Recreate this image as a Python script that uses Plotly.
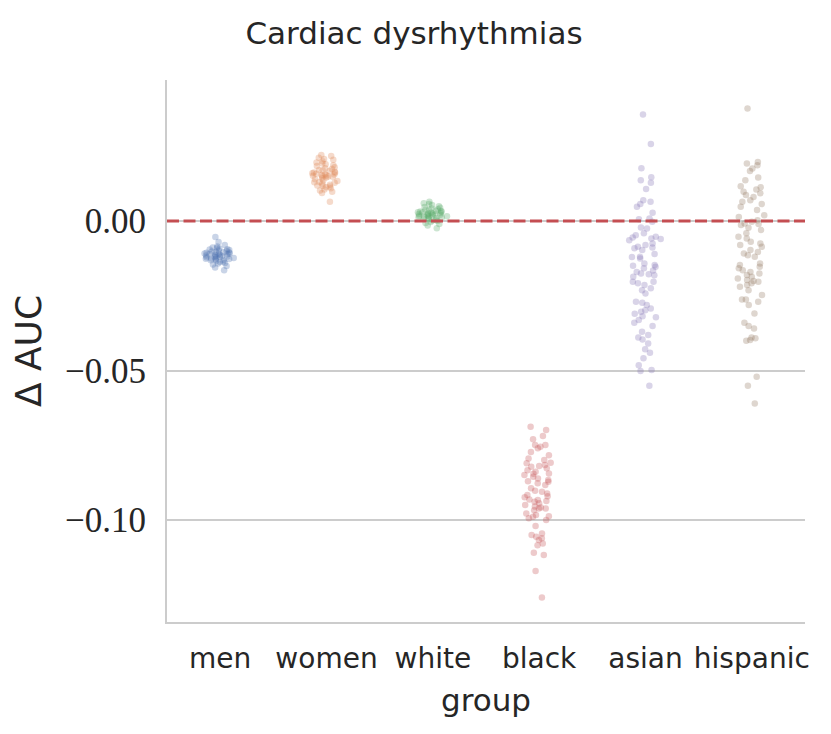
import plotly.graph_objects as go

groups = ["men", "women", "white", "black", "asian", "hispanic"]

men = [-0.0053, -0.0070, -0.0080, -0.0085, -0.0088, -0.0090, -0.0092, -0.0095, -0.0097,
       -0.0098, -0.0100, -0.0102, -0.0103, -0.0105, -0.0106, -0.0108, -0.0110, -0.0110,
       -0.0112, -0.0113, -0.0115, -0.0116, -0.0118, -0.0119, -0.0120, -0.0122, -0.0123,
       -0.0125, -0.0126, -0.0128, -0.0130, -0.0131, -0.0133, -0.0135, -0.0137, -0.0140,
       -0.0142, -0.0145, -0.0150, -0.0155, -0.0164, -0.0094, -0.0108, -0.0117, -0.0121,
       -0.0127, -0.0111, -0.0104]

women = [0.0221, 0.0218, 0.0212, 0.0208, 0.0205, 0.0200, 0.0196, 0.0193, 0.0190, 0.0187,
         0.0184, 0.0180, 0.0177, 0.0174, 0.0170, 0.0168, 0.0165, 0.0163, 0.0160, 0.0158,
         0.0156, 0.0154, 0.0152, 0.0150, 0.0148, 0.0146, 0.0143, 0.0140, 0.0137, 0.0134,
         0.0131, 0.0128, 0.0125, 0.0122, 0.0119, 0.0116, 0.0113, 0.0110, 0.0106, 0.0102,
         0.0098, 0.0094, 0.0065, 0.0157, 0.0153, 0.0149, 0.0162, 0.0130, 0.0118, 0.0171]

white = [0.0065, 0.0060, 0.0057, 0.0054, 0.0050, 0.0047, 0.0045, 0.0042, 0.0040, 0.0038,
         0.0036, 0.0034, 0.0032, 0.0030, 0.0029, 0.0027, 0.0025, 0.0024, 0.0022, 0.0021,
         0.0019, 0.0018, 0.0016, 0.0015, 0.0013, 0.0012, 0.0010, 0.0008, 0.0006, 0.0004,
         0.0002, 0.0000, -0.0003, -0.0006, -0.0010, -0.0015, -0.0024, 0.0028, 0.0023,
         0.0020, 0.0017, 0.0031, 0.0011, 0.0035, 0.0026]

black = [-0.0688, -0.0699, -0.0719, -0.0730, -0.0749, -0.0749, -0.0755, -0.0760, -0.0772,
         -0.0783, -0.0794, -0.0799, -0.0808, -0.0810, -0.0816, -0.0822, -0.0827, -0.0833,
         -0.0838, -0.0844, -0.0849, -0.0855, -0.0861, -0.0866, -0.0872, -0.0877, -0.0883,
         -0.0894, -0.0905, -0.0911, -0.0916, -0.0920, -0.0924, -0.0931, -0.0933, -0.0939,
         -0.0944, -0.0950, -0.0955, -0.0961, -0.0961, -0.0967, -0.0978, -0.0983, -0.0987,
         -0.0989, -0.0994, -0.1000, -0.1020, -0.1045, -0.1050, -0.1056, -0.1061, -0.1067,
         -0.1078, -0.1084, -0.1109, -0.1117, -0.1170, -0.1259, -0.0845, -0.0902, -0.0936,
         -0.0958, -0.0819, -0.0870]

asian = [0.0357, 0.0258, 0.0177, 0.0147, 0.0137, 0.0128, 0.0107, 0.0070, 0.0065, 0.0057,
         0.0048, 0.0028, 0.0009, 0.0006, -0.0002, -0.0021, -0.0025, -0.0041, -0.0047,
         -0.0052, -0.0058, -0.0064, -0.0075, -0.0080, -0.0086, -0.0091, -0.0097, -0.0110,
         -0.0119, -0.0125, -0.0142, -0.0147, -0.0149, -0.0153, -0.0158, -0.0170, -0.0175,
         -0.0181, -0.0186, -0.0203, -0.0203, -0.0208, -0.0214, -0.0225, -0.0231, -0.0242,
         -0.0270, -0.0273, -0.0281, -0.0292, -0.0298, -0.0303, -0.0318, -0.0322, -0.0331,
         -0.0340, -0.0351, -0.0370, -0.0381, -0.0389, -0.0396, -0.0409, -0.0429, -0.0440,
         -0.0459, -0.0482, -0.0498, -0.0501, -0.0551, -0.0060, -0.0088, -0.0165, -0.0178,
         -0.0310, -0.0055, -0.0120]

hispanic = [0.0377, 0.0198, 0.0193, 0.0187, 0.0176, 0.0168, 0.0146, 0.0137, 0.0117, 0.0113,
            0.0106, 0.0098, 0.0093, 0.0087, 0.0081, 0.0070, 0.0065, 0.0057, 0.0048, 0.0037,
            0.0020, 0.0014, 0.0003, -0.0002, -0.0008, -0.0013, -0.0022, -0.0041, -0.0052,
            -0.0058, -0.0069, -0.0075, -0.0080, -0.0086, -0.0097, -0.0103, -0.0108, -0.0114,
            -0.0119, -0.0142, -0.0147, -0.0153, -0.0158, -0.0164, -0.0170, -0.0175, -0.0186,
            -0.0192, -0.0197, -0.0203, -0.0208, -0.0214, -0.0220, -0.0231, -0.0247, -0.0262,
            -0.0262, -0.0270, -0.0281, -0.0309, -0.0340, -0.0351, -0.0359, -0.0389, -0.0392,
            -0.0398, -0.0400, -0.0521, -0.0551, -0.0610, -0.0010, -0.0030, -0.0180, -0.0200]

series = [men, women, white, black, asian, hispanic]
colors = ["76,114,176", "221,132,82", "85,168,104", "196,78,82", "129,114,179", "147,120,96"]

W, H = 823, 726

fig = go.Figure()
for name, vals, c in zip(groups, series, colors):
    fig.add_trace(go.Box(
        x=[name] * len(vals), y=vals, name=name,
        boxpoints="all", jitter=0.45, pointpos=0, width=0.7,
        fillcolor="rgba(0,0,0,0)", line=dict(color="rgba(0,0,0,0)", width=0),
        marker=dict(color=f"rgba({c},0.3)", size=6.5, line=dict(width=0)),
        showlegend=False, hoverinfo="y",
    ))

fig.add_shape(type="line", xref="paper", x0=0, x1=1, yref="y", y0=0, y1=0,
              line=dict(color="#C44E52", width=3, dash="12px,4.5px"), layer="above")

fig.update_layout(
    width=W, height=H,
    margin=dict(l=159, r=26, t=72, b=112),
    paper_bgcolor="white", plot_bgcolor="white",
    boxmode="overlay",
    title=dict(text="Cardiac dysrhythmias", x=406 / W, xref="container", xanchor="center",
               y=1 - 25 / H, yref="container", yanchor="middle",
               font=dict(family="DejaVu Sans", size=31, color="#262626")),
    xaxis=dict(
        type="category", categoryorder="array", categoryarray=groups,
        range=[-0.5, 5.5], showgrid=False, zeroline=False,
        showline=True, linecolor="#cccccc", linewidth=2,
        ticks="outside", ticklen=10, tickcolor="rgba(0,0,0,0)",
        tickfont=dict(family="DejaVu Sans", size=28, color="#262626"),
        title=dict(text="group", standoff=16,
                   font=dict(family="DejaVu Sans", size=31, color="#262626")),
    ),
    yaxis=dict(
        range=[-0.1341, 0.0472], tickvals=[0.0, -0.05, -0.10],
        ticktext=["0.00", "\u22120.05", "\u22120.10"],
        showgrid=True, gridcolor="#cccccc", gridwidth=1.8, zeroline=False,
        showline=True, linecolor="#cccccc", linewidth=2,
        ticks="outside", ticklen=12, tickcolor="rgba(0,0,0,0)",
        tickfont=dict(family="Liberation Serif", size=35, color="#262626"),
        title=dict(text="\u0394 AUC", standoff=16,
                   font=dict(family="DejaVu Sans", size=36, color="#262626")),
    ),
)

fig.write_html("out.html")
